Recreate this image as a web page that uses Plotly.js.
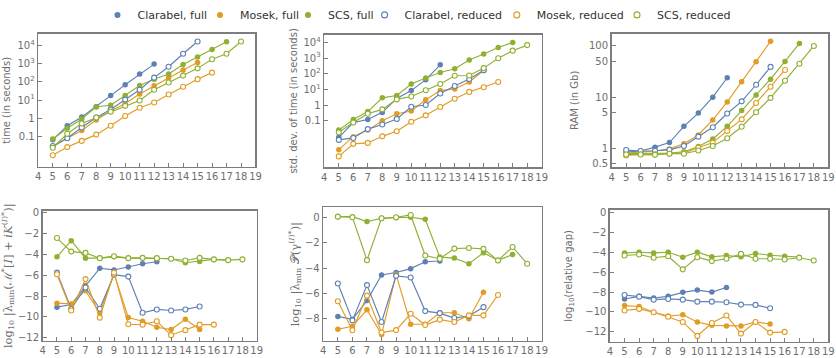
<!DOCTYPE html>
<html>
<head>
<meta charset="utf-8">
<script src="https://cdn.plot.ly/plotly-3.0.1.min.js"></script>
<style>
  html, body { margin: 0; padding: 0; background: #fff; }
  #chart { width: 836px; height: 358px; }
</style>
</head>
<body>
<div id="chart"></div>
<script>
// problem size (x axis), shared by all panels
var sizes = [5, 6, 7, 8, 9, 10, 11, 12, 13, 14, 15, 16, 17, 18];

// time (in seconds)
var tClarabelFull = [0.065, 0.39, 1.18, 4.3, 17.5, 69, 270, 940];
var tMosekFull = [0.027, 0.08, 0.21, 0.8, 2.5, 6.5, 21.5, 61, 170, 445, 1150];
var tScsFull = [0.073, 0.28, 0.9, 4.3, 5.2, 18, 63, 140, 270, 900, 2350, 6000, 15800];
var tClarabelRed = [0.03, 0.08, 0.31, 1.1, 3, 10.6, 37, 170, 680, 3500, 16500];
var tMosekRed = [0.0092, 0.026, 0.057, 0.126, 0.39, 1.33, 3.8, 7.3, 20, 54, 140, 320];
var tScsRed = [0.024, 0.14, 0.52, 1.1, 2.3, 4.8, 9.4, 37, 92, 220, 550, 1750, 3500, 16500];

// std. dev. of time
var sClarabelFull = [0.0087, 0.076, 0.12, 0.34, 2.6, 8.4, 42, 370];
var sMosekFull = [0.0014, 0.0095, 0.025, 0.098, 0.28, 0.42, 2.2, 8.4, 10.7, 30, 160];
var sScsFull = [0.025, 0.12, 0.38, 2.9, 4.1, 22, 53, 121, 207, 760, 1830, 4800, 10000];
var sClarabelRed = [0.0059, 0.0079, 0.029, 0.057, 0.13, 0.78, 1.0, 5.5, 16.6, 46, 170];
var sMosekRed = [0.00052, 0.0033, 0.0038, 0.01, 0.021, 0.085, 0.22, 0.75, 2.5, 6.9, 13.7, 30];
var sScsRed = [0.018, 0.076, 0.28, 0.53, 2.3, 3.5, 8.9, 22, 75, 78, 230, 980, 3000, 6800];

// RAM (in Gb)
var rClarabelFull = [0.85, 0.89, 1.06, 1.3, 2.7, 4.9, 10, 24];
var rMosekFull = [0.81, 0.84, 0.89, 0.98, 1.23, 1.83, 3.6, 8.1, 20, 49, 123];
var rScsFull = [0.79, 0.79, 0.79, 0.81, 0.86, 1.09, 1.53, 2.7, 5.5, 11, 22.5, 50, 112];
var rClarabelRed = [0.93, 0.89, 0.9, 0.94, 1.12, 1.7, 2.6, 4.8, 8.3, 17.5, 39];
var rMosekRed = [0.73, 0.77, 0.77, 0.79, 0.82, 1.03, 1.3, 2.2, 3.7, 7.7, 16, 34];
var rScsRed = [0.76, 0.76, 0.75, 0.79, 0.79, 0.91, 1.12, 1.58, 2.65, 5.1, 9.7, 21, 45, 100];

// log10 |lambda_min(M*[I] + iK)|
var mClarabelFull = [-9.06, -8.81, -7.01, -5.33, -5.49, -5.21, -4.89, -4.7];
var mMosekFull = [-8.68, -8.75, -7.48, -9.6, -5.85, -10.05, -10.42, -10.99, -11.21, -10.23, -11.21];
var mScsFull = [-4.23, -2.68, -4.36, -4.36, -4.23, -4.36, -4.36, -4.42, -4.42, -4.8, -4.67, -4.48, -4.55];
var mClarabelRed = [-5.75, -9.22, -7.17, -9.21, -5.95, -6.13, -9.6, -9.28, -9.38, -9.28, -9.0];
var mMosekRed = [-5.9, -9.38, -6.37, -10.07, -5.75, -10.7, -10.74, -10.42, -11.75, -11.27, -10.74, -10.74];
var mScsRed = [-2.43, -3.73, -3.85, -4.36, -4.17, -4.36, -4.33, -4.36, -4.42, -4.58, -4.33, -4.48, -4.55, -4.48];

// log10 |lambda_min P(gamma)|
var pClarabelFull = [-7.82, -8.05, -6.57, -4.55, -4.36, -4.05, -3.51, -3.45];
var pMosekFull = [-8.83, -8.6, -7.3, -9.25, -4.5, -8.44, -8.44, -7.53, -7.53, -8.0, -5.92];
var pScsFull = [0.05, 0.05, -0.34, -0.08, -0.03, 0, -0.16, -3.14, -3.22, -3.66, -2.8, -3.4, -2.94];
var pClarabelRed = [-5.22, -8.13, -5.35, -8.26, -4.62, -4.75, -7.4, -7.56, -7.95, -7.79, -7.09];
var pMosekRed = [-6.62, -8.91, -6.18, -9.09, -8.9, -7.61, -8.5, -8.07, -8.26, -7.74, -7.74, -6.13];
var pScsRed = [0.05, 0, -3.38, -0.08, 0, 0.18, -3.01, -3.27, -2.47, -2.42, -2.49, -3.4, -2.34, -3.66];

// log10(relative gap)
var gClarabelFull = [-8.69, -8.43, -8.6, -8.43, -8.03, -7.8, -8.0, -7.54];
var gMosekFull = [-9.36, -9.45, -10.02, -10.41, -10.28, -11.0, -11.34, -11.4, -11.4, -11.0, -11.2];
var gScsFull = [-4.07, -4.0, -4.07, -4.0, -4.5, -4.0, -4.46, -4.33, -4.46, -4.13, -4.3, -4.4, -4.5];
var gClarabelRed = [-8.3, -8.46, -8.76, -8.69, -8.76, -8.96, -8.96, -9.02, -9.26, -9.29, -9.62];
var gMosekRed = [-9.85, -9.69, -10.02, -10.48, -11.0, -12.4, -11.1, -10.35, -12.17, -11.0, -12.07, -12.0];
var gScsRed = [-4.33, -4.23, -4.56, -4.4, -5.72, -4.5, -4.89, -4.66, -4.17, -4.66, -4.66, -4.73, -4.56, -4.83];

var seriesNames = ["Clarabel, full", "Mosek, full", "SCS, full", "Clarabel, reduced", "Mosek, reduced", "SCS, reduced"];
var colors = ["#5E81B5", "#E19C24", "#8FB032", "#5E81B5", "#E19C24", "#8FB032"];

var panels = [
  [tClarabelFull, tMosekFull, tScsFull, tClarabelRed, tMosekRed, tScsRed],
  [sClarabelFull, sMosekFull, sScsFull, sClarabelRed, sMosekRed, sScsRed],
  [rClarabelFull, rMosekFull, rScsFull, rClarabelRed, rMosekRed, rScsRed],
  [mClarabelFull, mMosekFull, mScsFull, mClarabelRed, mMosekRed, mScsRed],
  [pClarabelFull, pMosekFull, pScsFull, pClarabelRed, pMosekRed, pScsRed],
  [gClarabelFull, gMosekFull, gScsFull, gClarabelRed, gMosekRed, gScsRed]
];

var W = 836, H = 358;
var grey = "#6e6e6e";
var frame = "#7d7d7d";

function markerFor(s, size){
  var open = s >= 3;
  return {
    symbol: "circle",
    size: size,
    color: open ? "#ffffff" : colors[s],
    line: {color: colors[s], width: open ? 1.1 : 0}
  };
}

var data = [];
panels.forEach(function(panel, p){
  var sfx = p === 0 ? "" : String(p + 1);
  panel.forEach(function(vals, s){
    data.push({
      type: "scatter", mode: "lines+markers",
      x: sizes.slice(0, vals.length), y: vals,
      xaxis: "x" + sfx, yaxis: "y" + sfx,
      showlegend: false, hoverinfo: "skip",
      line: {color: colors[s], width: 1.15},
      marker: markerFor(s, s >= 3 ? 5 : 5.5)
    });
  });
});

// legend entries (markers only, like the original), one small legend each
var legendDots = [113.5, 216, 304, 380.6, 512.8, 633];
seriesNames.forEach(function(name, s){
  data.push({
    type: "scatter", mode: "markers", x: [null], y: [null], name: name,
    legend: s === 0 ? "legend" : "legend" + (s + 1),
    marker: markerFor(s, 6)
  });
});

function dx(a, b){ return [a / W, b / W]; }
function dy(top, bottom){ return [1 - bottom / H, 1 - top / H]; }

var tickFont = {family: "DejaVu Sans", size: 10, color: grey};
var titleFont = {family: "DejaVu Sans", size: 10, color: grey};
var mathFont = {family: "DejaVu Serif", size: 11.5, color: grey};

function xAxis(dom, anchor){
  return {
    domain: dom, anchor: anchor, range: [4, 19],
    tickvals: [4,5,6,7,8,9,10,11,12,13,14,15,16,17,18,19],
    tickangle: 0,
    ticks: "inside", ticklen: 4, tickcolor: frame, tickwidth: 1,
    showline: true, mirror: true, linecolor: frame, linewidth: 1.6,
    showgrid: false, zeroline: false, tickfont: tickFont
  };
}
function yAxis(dom, anchor, extra){
  var a = {
    domain: dom, anchor: anchor,
    ticks: "inside", ticklen: 4, tickcolor: frame, tickwidth: 1,
    showline: true, mirror: true, linecolor: frame, linewidth: 1.6,
    showgrid: false, zeroline: false, tickfont: tickFont
  };
  for (var k in extra) a[k] = extra[k];
  return a;
}

var layout = {
  width: W, height: H,
  margin: {l: 0, r: 0, t: 0, b: 0},
  paper_bgcolor: "#ffffff", plot_bgcolor: "#ffffff",
  font: {family: "DejaVu Sans", color: grey},
  showlegend: true,

  xaxis: xAxis(dx(38.3, 255.5), "y"),
  yaxis: yAxis(dy(30.3, 164.5), "x", {
    type: "log", range: [-2.66, 4.63],
    tickvals: [0.1, 1, 10, 100, 1000, 10000],
    ticktext: ["0.1", "1", "10<sup>1</sup>", "10<sup>2</sup>", "10<sup>3</sup>", "10<sup>4</sup>"],
    title: {text: "time (in seconds)", font: titleFont, standoff: 5}
  }),
  xaxis2: xAxis(dx(324.3, 541.7), "y2"),
  yaxis2: yAxis(dy(31, 165), "x2", {
    type: "log", range: [-3.97, 4.5],
    tickvals: [0.1, 1, 10, 100, 1000, 10000],
    ticktext: ["0.1", "1", "10<sup>1</sup>", "10<sup>2</sup>", "10<sup>3</sup>", "10<sup>4</sup>"],
    title: {text: "std. dev. of time (in seconds)", font: titleFont, standoff: 4}
  }),
  xaxis3: xAxis(dx(611.7, 828.3), "y3"),
  yaxis3: yAxis(dy(30, 165), "x3", {
    type: "log", range: [-0.365, 2.24],
    tickvals: [0.5, 1, 5, 10, 50, 100],
    ticktext: ["0.5", "1", "5", "10", "50", "100"],
    title: {text: "RAM (in Gb)", font: titleFont, standoff: 8}
  }),
  xaxis4: xAxis(dx(42.7, 256.7), "y4"),
  yaxis4: yAxis(dy(209, 340.7), "x4", {
    range: [-12.3, 0.2], tickvals: [0, -2, -4, -6, -8, -10, -12],
    ticktext: ["0", "\u22122", "\u22124", "\u22126", "\u22128", "\u221210", "\u221212"],
    title: {text: "log<sub>10</sub> |\u03bb<sub>min</sub>(\u2133<sup>*</sup>[<i>I</i>] + <i>iK</i><sup>(<i>I</i>)*</sup>)|", font: mathFont, standoff: 3}
  }),
  xaxis5: xAxis(dx(323.3, 541.7), "y5"),
  yaxis5: yAxis(dy(205.7, 340.7), "x5", {
    range: [-9.75, 0.78], tickvals: [0, -2, -4, -6, -8],
    ticktext: ["0", "\u22122", "\u22124", "\u22126", "\u22128"],
    title: {text: "log<sub>10</sub> |\u03bb<sub>min</sub> \ud835\udcab(\u03b3<sup>(<i>I</i>)*</sup>)|", font: mathFont, standoff: 3}
  }),
  xaxis6: xAxis(dx(610, 828.3), "y6"),
  yaxis6: yAxis(dy(208.3, 341.7), "x6", {
    range: [-13, 0.24], tickvals: [0, -2, -4, -6, -8, -10, -12],
    ticktext: ["0", "\u22122", "\u22124", "\u22126", "\u22128", "\u221210", "\u221212"],
    title: {text: "log<sub>10</sub>(relative gap)", font: titleFont, standoff: 11}
  })
};

legendDots.forEach(function(px, s){
  var key = s === 0 ? "legend" : "legend" + (s + 1);
  layout[key] = {
    orientation: "h", x: (px - 16) / W, xanchor: "left",
    y: 1 - 11 / H, yanchor: "middle", itemwidth: 30,
    bgcolor: "rgba(0,0,0,0)",
    font: {family: "DejaVu Sans", size: 11, color: "#333"}
  };
});

Plotly.newPlot("chart", data, layout, {staticPlot: true, responsive: false});
</script>
</body>
</html>
